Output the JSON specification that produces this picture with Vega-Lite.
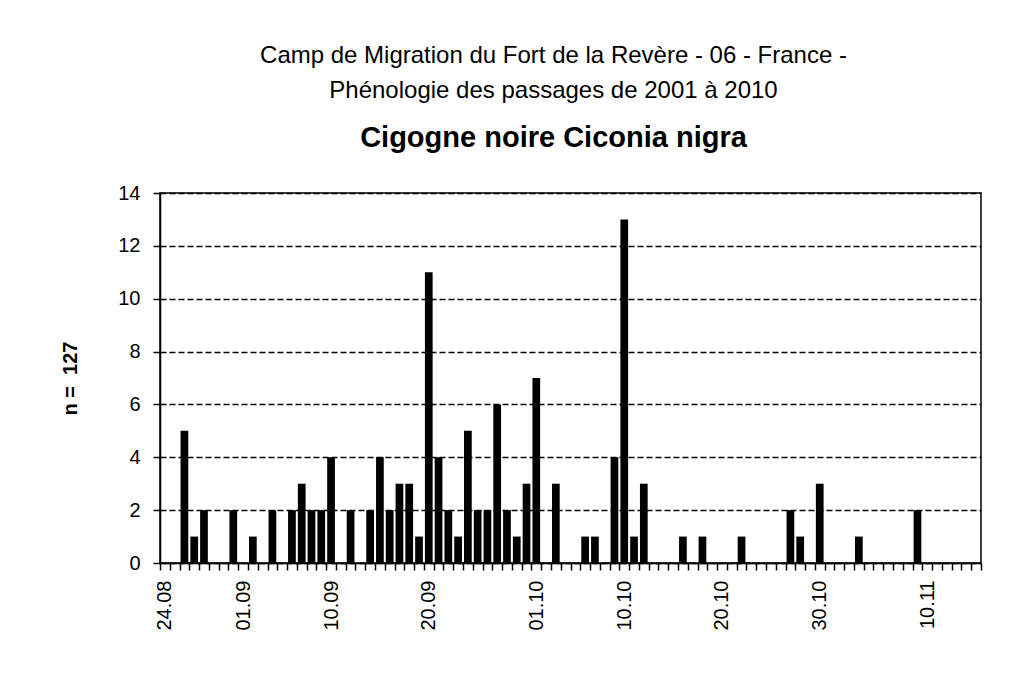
{
  "$schema": "https://vega.github.io/schema/vega-lite/v6.json",
  "width": 821,
  "height": 370,
  "autosize": {"type": "none"},
  "padding": {"left": 160, "top": 193, "right": 33, "bottom": 110},
  "background": "white",
  "title": {
    "text": ["Camp de Migration du Fort de la Revère - 06 - France -", "Phénologie des passages de 2001 à 2010"],
    "subtitle": "Cigogne noire Ciconia nigra",
    "font": "Liberation Sans",
    "fontSize": 24,
    "fontWeight": "normal",
    "lineHeight": 35,
    "color": "black",
    "subtitleFont": "Liberation Sans",
    "subtitleFontSize": 29,
    "subtitleFontWeight": "bold",
    "subtitleColor": "black",
    "subtitlePadding": 21,
    "anchor": "middle",
    "dx": -17,
    "offset": 30
  },
  "data": {
    "values": [
      {"d": "24.08", "n": 0}, {"d": "25.08", "n": 0}, {"d": "26.08", "n": 5}, {"d": "27.08", "n": 1},
      {"d": "28.08", "n": 2}, {"d": "29.08", "n": 0}, {"d": "30.08", "n": 0}, {"d": "31.08", "n": 2},
      {"d": "01.09", "n": 0}, {"d": "02.09", "n": 1}, {"d": "03.09", "n": 0}, {"d": "04.09", "n": 2},
      {"d": "05.09", "n": 0}, {"d": "06.09", "n": 2}, {"d": "07.09", "n": 3}, {"d": "08.09", "n": 2},
      {"d": "09.09", "n": 2}, {"d": "10.09", "n": 4}, {"d": "11.09", "n": 0}, {"d": "12.09", "n": 2},
      {"d": "13.09", "n": 0}, {"d": "14.09", "n": 2}, {"d": "15.09", "n": 4}, {"d": "16.09", "n": 2},
      {"d": "17.09", "n": 3}, {"d": "18.09", "n": 3}, {"d": "19.09", "n": 1}, {"d": "20.09", "n": 11},
      {"d": "21.09", "n": 4}, {"d": "22.09", "n": 2}, {"d": "23.09", "n": 1}, {"d": "24.09", "n": 5},
      {"d": "25.09", "n": 2}, {"d": "26.09", "n": 2}, {"d": "27.09", "n": 6}, {"d": "28.09", "n": 2},
      {"d": "29.09", "n": 1}, {"d": "30.09", "n": 3}, {"d": "01.10", "n": 7}, {"d": "02.10", "n": 0},
      {"d": "03.10", "n": 3}, {"d": "04.10", "n": 0}, {"d": "05.10", "n": 0}, {"d": "06.10", "n": 1},
      {"d": "07.10", "n": 1}, {"d": "08.10", "n": 0}, {"d": "09.10", "n": 4}, {"d": "10.10", "n": 13},
      {"d": "11.10", "n": 1}, {"d": "12.10", "n": 3}, {"d": "13.10", "n": 0}, {"d": "14.10", "n": 0},
      {"d": "15.10", "n": 0}, {"d": "16.10", "n": 1}, {"d": "17.10", "n": 0}, {"d": "18.10", "n": 1},
      {"d": "19.10", "n": 0}, {"d": "20.10", "n": 0}, {"d": "21.10", "n": 0}, {"d": "22.10", "n": 1},
      {"d": "23.10", "n": 0}, {"d": "24.10", "n": 0}, {"d": "25.10", "n": 0}, {"d": "26.10", "n": 0},
      {"d": "27.10", "n": 2}, {"d": "28.10", "n": 1}, {"d": "29.10", "n": 0}, {"d": "30.10", "n": 3},
      {"d": "31.10", "n": 0}, {"d": "01.11", "n": 0}, {"d": "02.11", "n": 0}, {"d": "03.11", "n": 1},
      {"d": "04.11", "n": 0}, {"d": "05.11", "n": 0}, {"d": "06.11", "n": 0}, {"d": "07.11", "n": 0},
      {"d": "08.11", "n": 0}, {"d": "09.11", "n": 2}, {"d": "10.11", "n": 0}, {"d": "11.11", "n": 0},
      {"d": "12.11", "n": 0}, {"d": "13.11", "n": 0}, {"d": "14.11", "n": 0}, {"d": "15.11", "n": 0}
    ]
  },
  "mark": {"type": "bar", "color": "black", "width": {"band": 0.79}},
  "encoding": {
    "x": {
      "field": "d",
      "type": "ordinal",
      "sort": null,
      "scale": {"paddingInner": 0, "paddingOuter": 0},
      "axis": {
        "title": null,
        "tickBand": "extent",
        "labelAngle": -90,
        "labelAlign": "right",
        "labelBaseline": "middle",
        "labelOverlap": false,
        "labelExpr": "indexof(['24.08','01.09','10.09','20.09','01.10','10.10','20.10','30.10','10.11'], datum.value) >= 0 ? datum.value : ''",
        "labelFont": "Liberation Sans",
        "labelFontSize": 20,
        "labelColor": "black",
        "labelPadding": 10,
        "tickSize": 7,
        "tickColor": "black",
        "tickWidth": 1.5,
        "domainColor": "black",
        "domainWidth": 1.5,
        "grid": false
      }
    },
    "y": {
      "field": "n",
      "type": "quantitative",
      "scale": {"domain": [0, 14], "nice": false},
      "axis": {
        "values": [0, 2, 4, 6, 8, 10, 12, 14],
        "title": "n =\u00a0\u00a0127",
        "titleFont": "Liberation Sans",
        "titleFontSize": 20,
        "titleFontWeight": "bold",
        "titleColor": "black",
        "titlePadding": 37,
        "labelFont": "Liberation Sans",
        "labelFontSize": 20,
        "labelColor": "black",
        "labelPadding": 13,
        "tickSize": 7,
        "tickColor": "black",
        "tickWidth": 1.5,
        "domainColor": "black",
        "domainWidth": 1.5,
        "grid": true,
        "gridColor": "black",
        "gridWidth": 1.5,
        "gridDash": [6, 3]
      }
    }
  },
  "config": {
    "view": {"stroke": "black", "strokeWidth": 1.5},
    "axis": {"labelFont": "Liberation Sans"}
  }
}
